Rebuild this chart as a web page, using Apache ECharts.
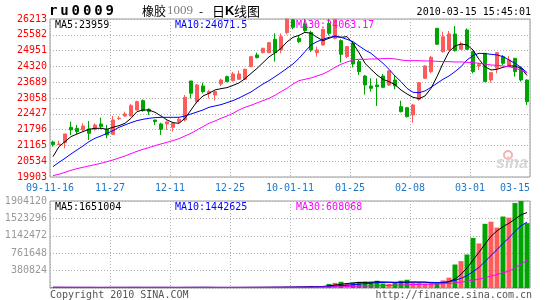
<!DOCTYPE html>
<html><head><meta charset="utf-8">
<script src="https://cdn.jsdelivr.net/npm/echarts@6/dist/echarts.min.js"></script>
<style>html,body{margin:0;padding:0;background:#fff}#c{width:545px;height:300px}</style>
</head><body><div id="c"></div>
<script>
const dates = ['2009-11-16','2009-11-17','2009-11-18','2009-11-19','2009-11-20','2009-11-23','2009-11-24','2009-11-25','2009-11-26','2009-11-27',
'2009-11-30','2009-12-01','2009-12-02','2009-12-03','2009-12-04','2009-12-07','2009-12-08','2009-12-09','2009-12-10','2009-12-11',
'2009-12-14','2009-12-15','2009-12-16','2009-12-17','2009-12-18','2009-12-21','2009-12-22','2009-12-23','2009-12-24','2009-12-25',
'2009-12-28','2009-12-29','2009-12-30','2009-12-31','2010-01-04','2010-01-05','2010-01-06','2010-01-07','2010-01-08','2010-01-11',
'2010-01-12','2010-01-13','2010-01-14','2010-01-15','2010-01-18','2010-01-19','2010-01-20','2010-01-21','2010-01-22','2010-01-25',
'2010-01-26','2010-01-27','2010-01-28','2010-01-29','2010-02-01','2010-02-02','2010-02-03','2010-02-04','2010-02-05','2010-02-08',
'2010-02-09','2010-02-10','2010-02-11','2010-02-12','2010-02-22','2010-02-23','2010-02-24','2010-02-25','2010-02-26','2010-03-01',
'2010-03-02','2010-03-03','2010-03-04','2010-03-05','2010-03-08','2010-03-09','2010-03-10','2010-03-11','2010-03-12','2010-03-15'];

const openP = [21302,21196,21276,21888,21848,21781,21821,21808,22021,21808,
21608,22234,22340,22340,22580,22953,22607,22181,22021,22021,
21888,22114,22181,23738,22913,23538,23246,23179,23618,23911,
23751,23804,23804,24310,24776,24869,24869,25402,24976,25668,
26180,25442,26014,25681,24869,25176,26040,25442,25349,24710,
25242,24510,23937,23538,23578,23937,23578,23778,22713,22673,
22380,23006,23845,24111,25841,24910,24976,25615,25003,25775,
24910,24337,24843,23778,24250,24710,24310,24643,24244,23778];
const closeP = [21196,21220,21622,21781,21715,21941,21648,21981,21915,21582,
22181,22254,22420,22753,22913,22553,22513,22114,21808,22101,
22048,22207,23086,23246,23578,23312,23312,23312,23778,23711,
24018,24018,24204,24710,24670,25042,25269,24869,25508,26213,
25880,25309,25748,24976,24976,25801,25641,26200,24803,25109,
24417,24111,23578,23445,23512,23485,24137,23538,22513,22314,
22780,23671,24337,24683,25202,25500,25615,24950,25216,25003,
24111,24390,23712,24071,24870,24444,24577,24111,23778,22913];
const lowP = [21116,21190,21049,21582,21622,21715,21382,21755,21808,21449,
21582,22180,22314,22314,22553,22513,22380,21981,21582,21781,
21715,22048,22114,23046,22846,23246,23046,22953,23538,23690,
23711,23778,23778,24284,24643,24843,24843,24510,24843,25600,
25800,25250,25700,24900,24710,25150,25560,25400,24470,24643,
24284,23977,23197,23312,22740,23445,23538,23406,22480,22280,
22074,22953,23818,24044,25176,24870,24950,24909,24976,24976,
24044,24177,23711,23671,24044,24377,24310,23911,23711,22780];
const highP = [21356,21356,21622,22114,21981,22048,22141,22048,22274,21981,
22340,22330,22513,22820,22953,23006,22647,22181,22074,22154,
22074,22287,23179,23738,23618,23671,23379,23346,23830,23950,
24098,24151,24230,24737,24870,25069,25296,25641,25641,26213,
26213,25550,26213,25750,25109,25830,26213,26213,25402,25135,
25309,24577,23977,23844,23844,24018,24164,23977,22953,22700,
22820,23698,24364,24737,25860,25708,25734,25934,25309,25841,
24950,24470,24843,24098,24870,24776,24737,24643,24310,23800];

const ma5 = [20717,21116,21316,21515,21622,21715,21808,21848,21848,21808,
21888,21954,22048,22247,22513,22580,22580,22487,22340,22181,
22074,22048,22247,22580,22913,23139,23246,23379,23432,23472,
23560,23660,23830,24040,24240,24470,24700,24860,25040,25300,
25480,25562,25680,25641,25482,25349,25442,25535,25482,25508,
25242,24869,24443,24204,23977,23805,23711,23592,23379,23219,
23086,23032,23139,23445,23911,24443,24909,25135,25215,25176,
24976,24603,24310,24177,24204,24284,24337,24337,24244,23959];
const ma10 = [20317,20490,20650,20823,20983,21143,21316,21449,21542,21648,
21755,21888,21981,22074,22154,22207,22247,22274,22287,22287,
22287,22287,22340,22420,22500,22580,22687,22740,22793,22873,
22953,23059,23179,23299,23459,23618,23751,23911,24071,24244,
24417,24643,24909,25176,25309,25402,25482,25508,25482,25402,
25309,25135,24976,24843,24643,24443,24204,23938,23711,23445,
23285,23272,23339,23485,23645,23805,23938,24111,24310,24577,
24750,24843,24830,24803,24776,24710,24577,24443,24284,24071.5];
const ma30 = [19958,20011,20091,20171,20237,20291,20344,20397,20450,20517,
20583,20663,20743,20836,20930,21010,21076,21156,21223,21289,
21356,21435,21542,21648,21782,21915,22048,22141,22247,22340,
22447,22580,22687,22767,22860,22953,23046,23166,23312,23445,
23618,23751,23805,23858,23938,24018,24137,24284,24404,24497,
24577,24603,24603,24617,24617,24630,24643,24617,24577,24550,
24550,24550,24537,24537,24523,24510,24510,24497,24497,24483,
24470,24443,24417,24377,24364,24337,24310,24244,24177,24063.17];

const volume = [14000,9000,18000,12000,10000,15000,11000,13000,9000,16000,
20000,12000,10000,14000,17000,15000,11000,12000,16000,13000,
10000,12000,19000,17000,15000,13000,11000,10000,14000,12000,
15000,13000,16000,18000,14000,20000,17000,22000,19000,24000,
21000,26000,30000,45000,28000,40000,90000,113000,136000,106000,
113000,136000,136000,136000,159000,98000,90000,113000,159000,181000,
113000,113000,98000,106000,98000,166000,227000,514000,589000,733000,
1096000,975000,1405000,1451000,1322000,1564000,1541000,1859000,1904120,1420000];
const vma5 = [15000,14000,13500,13000,12500,12800,13200,12200,11800,12600,
13800,14000,13400,14400,14600,13600,13400,13800,14200,13400,
12400,12600,14000,14200,14600,15200,15000,13200,12600,12000,
12800,12800,14000,14800,15200,16200,17000,18200,18400,20400,
20600,22400,24000,29000,30000,34000,47000,65000,81000,97000,
112000,121000,125000,125000,136000,133000,127000,123000,120000,125000,
128000,127000,127000,115000,106000,116000,140000,195000,300000,440000,
610000,781000,960000,1132000,1250000,1343000,1417000,1507000,1600000,1651004];
const vma10 = [14500,14200,14000,13800,13500,13200,13000,13100,12700,12900,
13300,13100,12800,13300,13200,13200,13300,13400,13500,13500,
13000,13100,13900,14000,13900,13900,13700,13500,13400,13300,
14000,14000,14100,14000,13900,14200,14800,16100,16700,17300,
18200,19700,21100,23900,24400,26500,33000,42000,54000,61000,
73000,84000,95000,105000,118000,121000,125000,124000,128000,131000,
131000,130000,128000,124000,121000,124000,133000,168000,211000,270000,
360000,450000,580000,710000,840000,975000,1100000,1240000,1360000,1442625];
const vma30 = [15000,14900,14800,14700,14600,14500,14400,14300,14200,14100,
14000,13900,13800,13800,13700,13700,13600,13600,13600,13500,
13500,13500,13500,13500,13600,13600,13600,13500,13500,13500,
13500,13500,13600,13600,13700,13800,14000,14300,14500,14800,
15100,15500,16100,17100,17600,18500,21000,24500,28500,31500,
35000,39000,43000,47000,52000,55000,58000,61000,66000,71000,
75000,78000,81000,84000,87000,92000,99000,112000,128000,148000,
170000,195000,225000,260000,295000,330000,370000,440000,520000,608068];

const xTickLabels = ['09-11-16','11-27','12-11','12-25','10-01-11','01-25','02-08','03-01','03-15'];
const yTickLabels = ['19903','20534','21165','21796','22427','23058','23689','24320','24951','25582','26213'];

const UP = '#FF5B5B', DOWN = '#00A400';
const MONO = '"DejaVu Sans Mono", monospace';
const GRIDLINE = {show: true, lineStyle: {color: '#b0b0b0', type: [1, 2], width: 1}};

const candleData = dates.map((d, i) => [openP[i], closeP[i], lowP[i], highP[i]]);
const volData = volume.map((v, i) => ({value: v, itemStyle: {color: closeP[i] >= openP[i] ? UP : DOWN}}));

function txt(text, x, y, color, font, align) {
  return {type: 'text', x: x, y: y, silent: true, z: 100,
    style: {text: text, fill: color, font: font, align: align || 'left', verticalAlign: 'middle',
            textAlign: align || 'left', textVerticalAlign: 'middle'}};
}

const graphics = [];
const code = 'ru0009';
for (let k = 0; k < code.length; k++) graphics.push(txt(code[k], 49 + k * 11.3, 11, '#000', 'bold 14px ' + MONO));
graphics.push(txt('橡胶', 142, 11, '#000', '12px "Noto Sans CJK SC"'));
graphics.push(txt('1009', 167, 11, '#808080', '13px "Liberation Serif"'));
graphics.push(txt('-', 199, 11, '#000', '12px "Noto Sans CJK SC"'));
graphics.push(txt('日', 212, 11, '#000', '13px "Noto Sans CJK SC"'));
graphics.push(txt('K', 225, 11, '#000', 'bold 13px "Liberation Sans"'));
graphics.push(txt('线图', 234, 11, '#000', '13px "Noto Sans CJK SC"'));
graphics.push(txt('2010-03-15 15:45:01', 531, 12, '#000', '10px ' + MONO, 'right'));
graphics.push(txt('MA5:23959', 55, 25, '#000', '10px ' + MONO));
graphics.push(txt('MA10:24071.5', 175, 25, '#0000FF', '10px ' + MONO));
graphics.push(txt('MA30:24063.17', 296, 25, '#FF00FF', '10px ' + MONO));
graphics.push(txt('MA5:1651004', 55, 207, '#000', '10px ' + MONO));
graphics.push(txt('MA10:1442625', 175, 207, '#0000FF', '10px ' + MONO));
graphics.push(txt('MA30:608068', 296, 207, '#FF00FF', '10px ' + MONO));
graphics.push(txt('Copyright 2010 SINA.COM', 50, 295, '#555', '10px ' + MONO));
graphics.push(txt('http://finance.sina.com.cn', 532, 295, '#555', '10px ' + MONO, 'right'));
graphics.push({type: 'circle', silent: true, z: 1, shape: {cx: 508, cy: 155, r: 4},
  style: {fill: 'none', stroke: '#f3b3b3', lineWidth: 2}});
graphics.push(txt('sina', 512, 164, '#d6d6d6', 'italic bold 16px "Liberation Sans"', 'center'));

const chart = echarts.init(document.getElementById('c'), null, {renderer: 'canvas'});
chart.setOption({
  animation: false,
  backgroundColor: '#fff',
  grid: [
    {left: 50, top: 19, width: 480, height: 158, show: true, borderColor: '#999', borderWidth: 1, backgroundColor: 'transparent'},
    {left: 50, top: 201, width: 480, height: 87, show: true, borderColor: '#999', borderWidth: 1, backgroundColor: 'transparent'}
  ],
  xAxis: [
    {type: 'category', gridIndex: 0, data: dates, boundaryGap: true, show: false},
    {type: 'value', gridIndex: 0, min: 0, max: 80, interval: 10, position: 'bottom',
     axisLine: {show: false}, axisTick: {show: false}, splitLine: GRIDLINE,
     axisLabel: {color: '#1E78C8', fontFamily: MONO, fontSize: 10, margin: 6, alignMaxLabel: 'right',
       formatter: v => xTickLabels[Math.round(v / 10)]}},
    {type: 'category', gridIndex: 1, data: dates, boundaryGap: true, show: false},
    {type: 'value', gridIndex: 1, min: 0, max: 80, interval: 10,
     axisLine: {show: false}, axisTick: {show: false}, splitLine: GRIDLINE, axisLabel: {show: false}}
  ],
  yAxis: [
    {type: 'value', gridIndex: 0, min: 19903, max: 26213, show: false, splitLine: {show: false}},
    {type: 'value', gridIndex: 0, min: 0, max: 10, interval: 1, position: 'left',
     axisLine: {show: false}, axisTick: {show: false}, splitLine: GRIDLINE,
     axisLabel: {color: '#FF0000', fontFamily: MONO, fontSize: 10, margin: 3, padding: [0, 0, 3, 0],
       formatter: v => yTickLabels[Math.round(v)]}},
    {type: 'value', gridIndex: 1, min: 0, max: 1904120, interval: 380824, position: 'left',
     axisLine: {show: false}, axisTick: {show: false}, splitLine: GRIDLINE,
     axisLabel: {color: '#999', fontFamily: MONO, fontSize: 10, margin: 3, padding: [0, 0, 2, 0],
       formatter: v => v === 0 ? '' : String(v)}}
  ],
  series: [
    {type: 'candlestick', xAxisIndex: 0, yAxisIndex: 0, data: candleData, barWidth: 4,
     itemStyle: {color: UP, color0: DOWN, borderColor: UP, borderColor0: DOWN, borderWidth: 1}},
    {type: 'line', xAxisIndex: 0, yAxisIndex: 0, data: ma5, symbol: 'none', lineStyle: {color: '#000', width: 1}},
    {type: 'line', xAxisIndex: 0, yAxisIndex: 0, data: ma10, symbol: 'none', lineStyle: {color: '#0000FF', width: 1}},
    {type: 'line', xAxisIndex: 0, yAxisIndex: 0, data: ma30, symbol: 'none', lineStyle: {color: '#FF00FF', width: 1}},
    {type: 'bar', xAxisIndex: 2, yAxisIndex: 2, data: volData, barWidth: 5},
    {type: 'line', xAxisIndex: 2, yAxisIndex: 2, data: vma5, symbol: 'none', lineStyle: {color: '#000', width: 1}},
    {type: 'line', xAxisIndex: 2, yAxisIndex: 2, data: vma10, symbol: 'none', lineStyle: {color: '#0000FF', width: 1}},
    {type: 'line', xAxisIndex: 2, yAxisIndex: 2, data: vma30, symbol: 'none', lineStyle: {color: '#FF00FF', width: 1}}
  ],
  graphic: graphics
});
</script></body></html>
